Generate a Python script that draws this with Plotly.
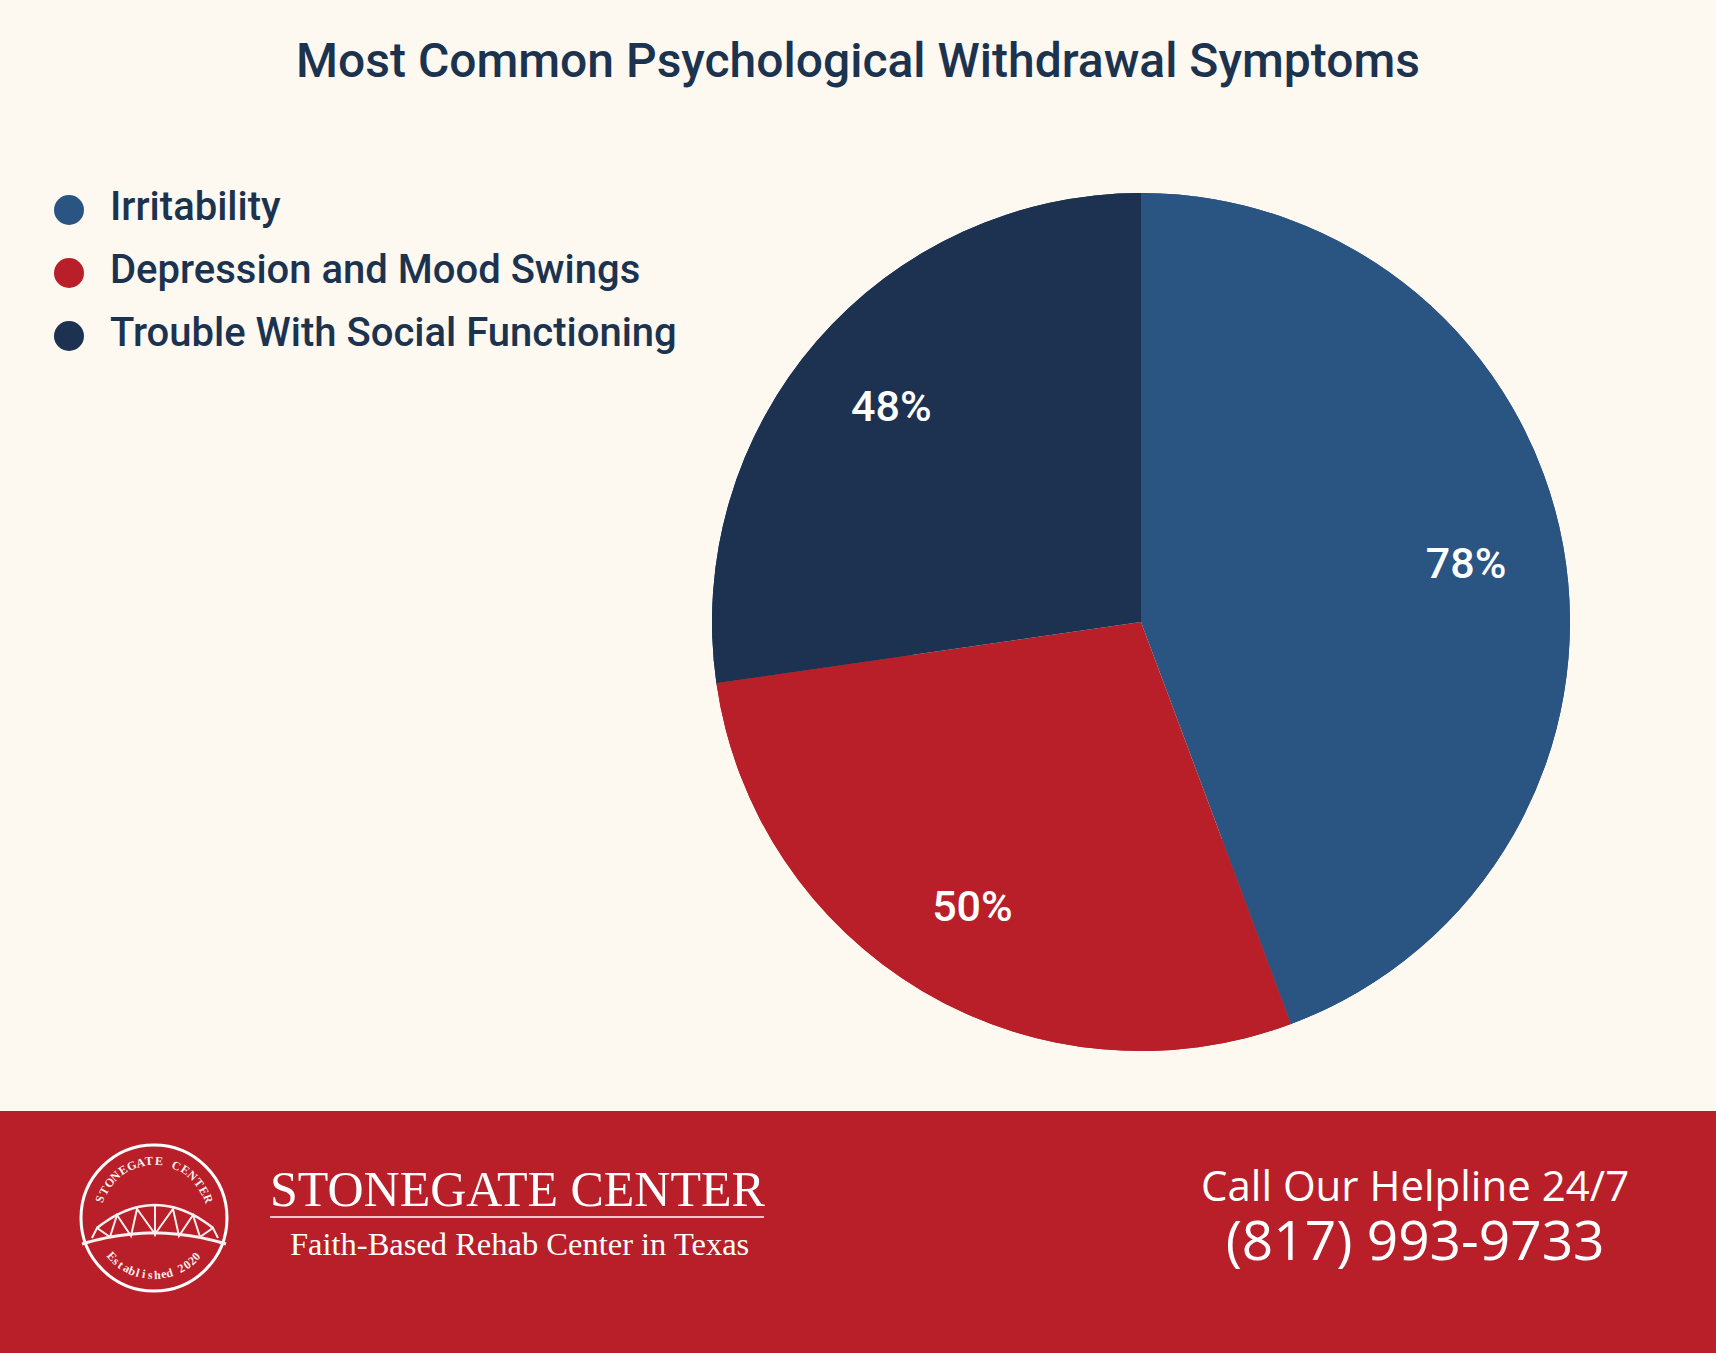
import math
import plotly.graph_objects as go

# ---------------- data ----------------
categories = ["Irritability", "Depression and Mood Swings", "Trouble With Social Functioning"]
values = [78, 50, 48]
colors = ["#2A5482", "#B81F28", "#1C3250"]

title_text = "Most Common Psychological Withdrawal Symptoms"
brand = "STONEGATE CENTER"
tagline = "Faith-Based Rehab Center in Texas"
helpline = "Call Our Helpline 24/7"
phone = "(817) 993-9733"
seal_top = "STONEGATE CENTER"
seal_bottom = "Established 2020"

# ---------------- layout constants ----------------
W, H = 1716, 1353
BG = "#FDF9F0"
INK = "#1C3350"
RED = "#B81F28"


def px(x, y):
    return x / W, 1 - y / H


fig = go.Figure()

# ---- pie (full disc, no text) + ring overlay carrying the labels further out ----
cx, cy, R = 1141, 622, 429
pie_domain = dict(x=[(cx - R) / W, (cx + R) / W], y=[1 - (cy + R) / H, 1 - (cy - R) / H])
fig.add_trace(go.Pie(
    labels=categories, values=values, sort=False, direction="clockwise", rotation=0,
    marker=dict(colors=colors, line=dict(width=0)), textinfo="none",
    domain=pie_domain, showlegend=False, hoverinfo="label+value",
))
fig.add_trace(go.Pie(
    labels=categories, values=values, sort=False, direction="clockwise", rotation=0,
    hole=0.54,
    marker=dict(colors=colors, line=dict(width=0)),
    texttemplate="%{value}%", textposition="inside", insidetextorientation="horizontal",
    textfont=dict(family="Roboto", size=43, color="white", weight=500),
    domain=pie_domain, showlegend=False, hoverinfo="label+value",
))

# ---- custom legend (circles + labels) on its own axes ----
dom_w = 0.4 * W          # legend axes width in px
dom_h = 406              # legend axes height in px (from top)
mark_px, text_px = 69, 110
row0_px, row_step = 210, 63
ux = text_px - mark_px
xr0 = -mark_px / ux
xr1 = xr0 + dom_w / ux
yr_top = -row0_px / row_step
yr_bot = yr_top + dom_h / row_step
idx = list(range(len(categories)))
fig.add_trace(go.Scatter(
    x=[0] * len(idx), y=idx, mode="markers",
    marker=dict(size=30, color=colors, line=dict(width=0)),
    xaxis="x", yaxis="y", showlegend=False, hoverinfo="skip", cliponaxis=False,
))
fig.add_trace(go.Scatter(
    x=[1] * len(idx), y=idx, mode="text", text=categories, textposition="middle right",
    textfont=dict(family="Roboto", size=40, color=INK, weight=500),
    xaxis="x", yaxis="y", showlegend=False, hoverinfo="skip", cliponaxis=False,
))

# ---- footer band ----
shapes = [dict(type="rect", xref="paper", yref="paper", x0=0, x1=1, y0=0, y1=1 - 1111 / H,
               fillcolor=RED, line=dict(width=0), layer="below")]

# seal / logo
lcx, lcy, lr = 154, 1218, 73


def pstr(pts):
    out = []
    for i, (x, y) in enumerate(pts):
        X, Y = px(x, y)
        out.append(("M" if i == 0 else "L") + f"{X:.5f},{Y:.5f}")
    return " ".join(out)


def arc_pts(x0, y0, xm, ym, x1, y1, n=24):
    pts = []
    for i in range(n + 1):
        t = i / n
        x = (1 - t) ** 2 * x0 + 2 * (1 - t) * t * (2 * xm - (x0 + x1) / 2) + t ** 2 * x1
        y = (1 - t) ** 2 * y0 + 2 * (1 - t) * t * (2 * ym - (y0 + y1) / 2) + t ** 2 * y1
        pts.append((x, y))
    return pts


X0, Y0 = px(lcx - lr, lcy - lr)
X1, Y1 = px(lcx + lr, lcy + lr)
shapes.append(dict(type="circle", xref="paper", yref="paper", x0=X0, x1=X1, y0=Y0, y1=Y1,
                   line=dict(color="white", width=3), fillcolor="rgba(0,0,0,0)"))
# deck
shapes.append(dict(type="path", xref="paper", yref="paper",
                   path=pstr(arc_pts(82, 1244, 154, 1233, 226, 1244)),
                   line=dict(color="#FBEFEF", width=3)))
# top chord
top = arc_pts(97, 1228, 155, 1205, 213, 1228)
shapes.append(dict(type="path", xref="paper", yref="paper", path=pstr(top),
                   line=dict(color="#FBEFEF", width=2.5)))
# truss
truss = [(92, 1238), (97, 1228), (110, 1237), (117, 1215), (131, 1236), (137, 1209),
         (155, 1234), (155, 1205), (155, 1234), (173, 1209), (179, 1236), (193, 1215),
         (200, 1237), (213, 1228), (218, 1238)]
shapes.append(dict(type="path", xref="paper", yref="paper", path=pstr(truss),
                   line=dict(color="#FBEFEF", width=2)))
# brand underline
ux0, uy = px(270, 1217)
ux1, _ = px(764, 1217)
shapes.append(dict(type="line", xref="paper", yref="paper", x0=ux0, x1=ux1, y0=uy, y1=uy,
                   line=dict(color="white", width=1.5)))

annotations = []


def ann(text, x, y, size, family, color="white", xanchor="center", yanchor="middle", weight=None, angle=0):
    X, Y = px(x, y)
    f = dict(family=family, size=size, color=color)
    if weight:
        f["weight"] = weight
    annotations.append(dict(text=text, x=X, y=Y, xref="paper", yref="paper", showarrow=False,
                            xanchor=xanchor, yanchor=yanchor, font=f, textangle=angle))


# seal curved text
rt = 57
n = len(seal_top)
for i, ch in enumerate(seal_top):
    th = -71 + 142 * i / (n - 1)
    a = math.radians(th)
    ann(ch, lcx + rt * math.sin(a), lcy - rt * math.cos(a), 12, "Liberation Serif", color="#FBEFEF",
        weight=700, angle=th)
rb = 57
n = len(seal_bottom)
for i, ch in enumerate(seal_bottom):
    al = -48 + 96 * i / (n - 1)
    a = math.radians(al)
    ann(ch, lcx + rb * math.sin(a), lcy + rb * math.cos(a), 12, "Liberation Serif", color="#FBEFEF",
        weight=700, angle=-al)

ann(brand, 518, 1189, 50, "Liberation Serif")
ann(tagline, 519, 1244, 32.5, "Liberation Serif")
# helpline + phone as one two-line text block
contact = (f"<span style='font-size:42px'>{helpline}</span><br>"
           f"<span style='font-size:55px'>{phone}</span>")
ann(contact, 1415, 1216, 45.4, "Open Sans")

fig.update_layout(
    width=W, height=H, margin=dict(l=0, r=0, t=0, b=0),
    paper_bgcolor=BG, plot_bgcolor="rgba(0,0,0,0)",
    title=dict(text=title_text, x=0.5, xanchor="center", y=1 - 60 / H, yanchor="middle",
               font=dict(family="Roboto", size=48, color=INK, weight=500)),
    xaxis=dict(domain=[0, 0.4], range=[xr0, xr1], visible=False, fixedrange=True),
    yaxis=dict(domain=[1 - dom_h / H, 1], range=[yr_bot, yr_top], visible=False, fixedrange=True),
    shapes=shapes, annotations=annotations, showlegend=False,
)

fig.write_html(
    "out.html",
    config={"displayModeBar": False},
    post_script="document.body.style.margin='0';document.body.style.overflow='hidden';",
)
